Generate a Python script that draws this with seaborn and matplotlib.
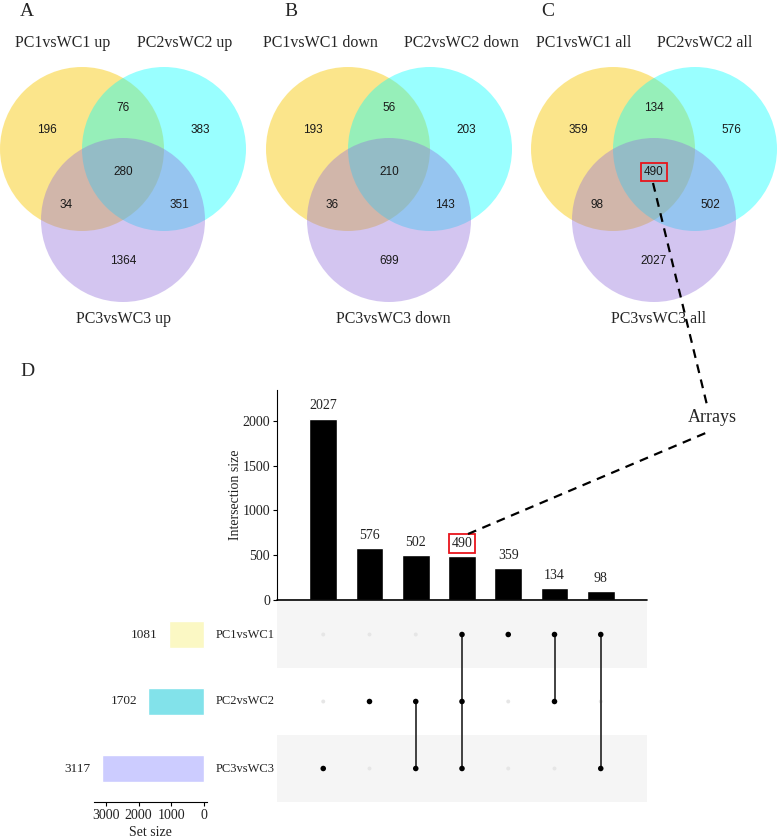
import numpy as np
import pandas as pd
import matplotlib
matplotlib.use("Agg")
import matplotlib.pyplot as plt
import matplotlib.transforms as mtransforms
from matplotlib.patches import Circle
import seaborn as sns

sns.set_theme(style="white")
plt.rcParams['font.family'] = ['Liberation Serif', 'DejaVu Serif']

# ---------------- data ----------------
venn_panels = ["A", "B", "C"]
venn_kinds = ["up", "down", "all"]
# region order: only1, 1&2, only2, 1&2&3, 1&3, 2&3, only3
venn_up = [196, 76, 383, 280, 34, 351, 1364]
venn_down = [193, 56, 203, 210, 36, 143, 699]
venn_all = [359, 134, 576, 490, 98, 502, 2027]

set_names = ["PC1vsWC1", "PC2vsWC2", "PC3vsWC3"]
set_sizes = [1081, 1702, 3117]
inter_sizes = [2027, 576, 502, 490, 359, 134, 98]
inter_members = [[2], [1], [1, 2], [0, 1, 2], [0], [0, 1], [0, 2]]
bar_ticks = [0, 500, 1000, 1500, 2000]
set_ticks = [3000, 2000, 1000, 0]

W, H = 777, 839
fig = plt.figure(figsize=(W / 100, H / 100), dpi=100)


def rect(x0, y0, x1, y1):
    return [x0 / W, 1 - y1 / H, (x1 - x0) / W, (y1 - y0) / H]


# ---------------- Venn diagrams ----------------
axv = fig.add_axes([0, 0, 1, 1])
axv.set_xlim(0, W)
axv.set_ylim(H, 0)
axv.axis("off")

venn_colors = ["#F9CD19", "#00FFFF", "#9370DB"]
venn_alphas = [0.5, 0.4, 0.4]
venn_data = [venn_up, venn_down, venn_all]
centers = [123, 389, 654]
title_pos = [((63, 185), 123), ((320, 461), 393), ((584, 705), 659)]
letter_x = [27, 291, 548]
region_off = [(-76, 130), (0, 108), (77, 130), (0, 172), (-57, 205), (56, 205), (0, 261)]

for p, (cx, vals, kind) in enumerate(zip(centers, venn_data, venn_kinds)):
    circ_c = [(cx - 41, 149), (cx + 41, 149), (cx, 220)]
    for (ccx, ccy), col, al in zip(circ_c, venn_colors, venn_alphas):
        axv.add_patch(Circle((ccx, ccy), 82, facecolor=col, alpha=al, edgecolor="none"))
    for v, (dx, y) in zip(vals, region_off):
        bbox = None
        if p == 2 and v == 490:
            bbox = dict(boxstyle="square,pad=0.25", fc="none", ec="#E8141B", lw=1.3)
        axv.text(cx + dx, y, str(v), ha="center", va="center", fontsize=8.5,
                 family="Liberation Sans", color="#1a1a1a", bbox=bbox)
    (t1, t2), t3 = title_pos[p]
    axv.text(t1, 43, f"{set_names[0]} {kind}", ha="center", va="center", fontsize=11.5)
    axv.text(t2, 43, f"{set_names[1]} {kind}", ha="center", va="center", fontsize=11.5)
    axv.text(t3, 319, f"{set_names[2]} {kind}", ha="center", va="center", fontsize=11.5)
    axv.text(letter_x[p], 12, venn_panels[p], ha="center", va="center", fontsize=14)

axv.text(27, 371, "D", ha="center", va="center", fontsize=14)

# ---------------- UpSet: intersection bars ----------------
axb = fig.add_axes(rect(277, 390, 647, 600))
df_bar = pd.DataFrame({"idx": np.arange(len(inter_sizes)), "size": inter_sizes})
sns.barplot(data=df_bar, x="idx", y="size", color="black", width=0.6,
            saturation=1, ax=axb, order=list(range(len(inter_sizes))))
axb.set_xlim(-1, len(inter_sizes))
axb.set_ylim(0, 2346)
axb.set_facecolor("none")
for s in ["top", "right", "bottom"]:
    axb.spines[s].set_visible(False)
axb.spines["left"].set_color("black")
axb.spines["left"].set_linewidth(0.8)
axb.axhline(0, color="black", lw=1.2, clip_on=False)
axb.set_xticks([])
axb.set_xlabel("")
axb.set_yticks(bar_ticks)
axb.set_yticklabels([str(t) for t in bar_ticks], fontsize=10, color="#222222")
axb.tick_params(axis="y", left=True, length=3, width=0.8, pad=2, color="black")
axb.set_ylabel("Intersection size", fontsize=10, color="#222222")
axb.yaxis.set_label_coords(-0.095, 0.5)
for i, v in enumerate(inter_sizes):
    bbox = None
    if v == 490:
        bbox = dict(boxstyle="square,pad=0.2", fc="none", ec="#E8141B", lw=1.3)
    axb.text(i, v + 70, str(v), ha="center", va="bottom", fontsize=10,
             color="#222222", bbox=bbox)

# ---------------- UpSet: matrix ----------------
axm = fig.add_axes(rect(277, 601, 647, 802))
axm.set_xlim(-1, len(inter_sizes))
axm.set_ylim(len(set_names) - 0.5, -0.5)
for r in range(len(set_names)):
    if r % 2 == 0:
        axm.axhspan(r - 0.5, r + 0.5, color="#F5F5F5", lw=0, zorder=0)
rows, cols, act = [], [], []
for c, mem in enumerate(inter_members):
    for r in range(len(set_names)):
        rows.append(r)
        cols.append(c)
        act.append(r in mem)
df_m = pd.DataFrame({"col": cols, "row": rows, "active": act})
sns.scatterplot(data=df_m[~df_m.active], x="col", y="row", color="#E6E6E6", s=8,
                edgecolor="none", ax=axm, zorder=2)
for c, mem in enumerate(inter_members):
    if len(mem) > 1:
        axm.plot([c, c], [min(mem), max(mem)], color="#333333", lw=1.3, zorder=3)
sns.scatterplot(data=df_m[df_m.active], x="col", y="row", color="black", s=16,
                edgecolor="none", ax=axm, zorder=4)
axm.axis("off")

# ---------------- UpSet: set sizes ----------------
axs = fig.add_axes(rect(94, 601, 207, 802))
set_colors = ["#FBF8C4", "#82E2EA", "#CCCCFF"]
df_s = pd.DataFrame({"name": set_names, "size": set_sizes})
sns.barplot(data=df_s, x="size", y="name", hue="name", palette=set_colors, orient="h",
            width=0.39, saturation=1, legend=False, ax=axs, order=set_names)
axs.set_xlim(3364, -92)
axs.set_ylim(len(set_names) - 0.5, -0.5)
axs.set_facecolor("none")
for s in ["top", "right", "left"]:
    axs.spines[s].set_visible(False)
axs.spines["bottom"].set_color("black")
axs.spines["bottom"].set_linewidth(0.8)
axs.set_yticks([])
axs.set_ylabel("")
axs.set_xticks(set_ticks)
axs.set_xticklabels([str(t) for t in set_ticks], fontsize=10, color="#222222")
axs.tick_params(axis="x", bottom=True, length=3, width=0.8, pad=2, color="black")
axs.set_xlabel("Set size", fontsize=10, color="#222222", labelpad=3)
for i, v in enumerate(set_sizes):
    axs.text(v + 340, i, str(v), ha="right", va="center", fontsize=9.5, color="#222222")
trans = mtransforms.blended_transform_factory(axs.transAxes, axs.transData)
for i, n in enumerate(set_names):
    axs.text(1.08, i, n, transform=trans, ha="left", va="center", fontsize=9, color="#222222")

# ---------------- connecting dashed lines ----------------
axo = fig.add_axes([0, 0, 1, 1])
axo.set_xlim(0, W)
axo.set_ylim(H, 0)
axo.axis("off")
axo.patch.set_alpha(0)
axo.plot([653, 707], [183, 405], ls=(0, (4, 3)), color="black", lw=1.6)
axo.plot([468, 708], [534, 432], ls=(0, (4, 3)), color="black", lw=1.6)
axo.text(688, 417, "Arrays", ha="left", va="center", fontsize=13)

fig.savefig("out.png", dpi=100)
